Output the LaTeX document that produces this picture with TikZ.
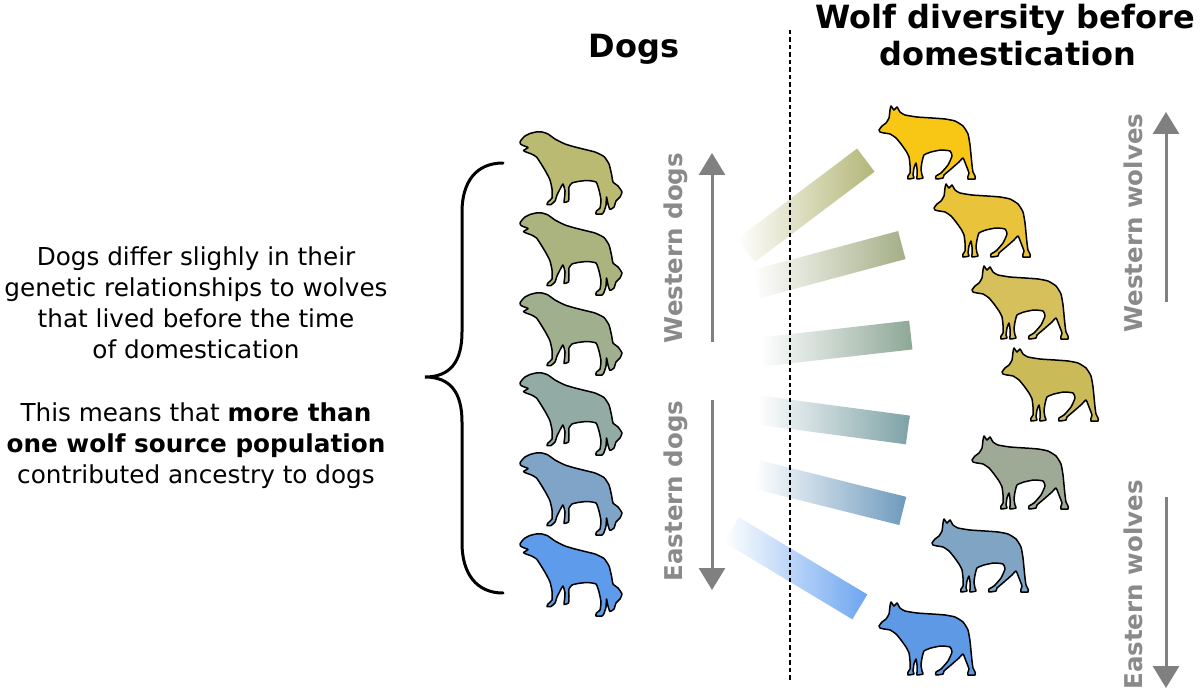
\documentclass[tikz,border=0pt]{standalone}
\usepackage{fontspec}
\setmainfont{DejaVu Sans}
\usetikzlibrary{arrows.meta}
\definecolor{D1}{HTML}{BABA72}
\definecolor{D2}{HTML}{ABB47F}
\definecolor{D3}{HTML}{A0B08E}
\definecolor{D4}{HTML}{93ABA5}
\definecolor{D5}{HTML}{80A4C8}
\definecolor{D6}{HTML}{5E9BEB}
\definecolor{W1}{HTML}{F8C614}
\definecolor{W2}{HTML}{E9C43A}
\definecolor{W3}{HTML}{D5C05C}
\definecolor{W4}{HTML}{CBBA58}
\definecolor{W5}{HTML}{9EAA95}
\definecolor{W6}{HTML}{80A5C4}
\definecolor{W7}{HTML}{5E99E6}
\definecolor{B1}{HTML}{B3B676}
\definecolor{B2}{HTML}{A4AE86}
\definecolor{B3}{HTML}{8DA795}
\definecolor{B4}{HTML}{7DA2A6}
\definecolor{B5}{HTML}{6E9ABD}
\definecolor{B6}{HTML}{6CA5F0}
\definecolor{grayT}{HTML}{8A8A8A}
\definecolor{grayA}{HTML}{808080}
\begin{document}
\begin{tikzpicture}[x=1pt,y=-1pt,
  sil/.style={draw=black, line width=1.5pt, line join=round},
  glabel/.style={text=grayT, font=\fontsize{24.5}{29}\selectfont\bfseries, rotate=90, anchor=base, inner sep=0pt},
  garrow/.style={draw=grayA, line width=3pt, -{Triangle[length=22pt,width=26pt]}},
  body/.style={font=\fontsize{24.7}{31}\selectfont, anchor=base, inner sep=0pt},
  title/.style={font=\fontsize{32}{38}\selectfont\bfseries, anchor=base, inner sep=0pt},
  bar/.style={minimum width=150pt, minimum height=29pt, inner sep=0pt, anchor=east, left color=white, right color=#1},
  pics/dog/.style={code={\draw[sil, fill=#1] plot[smooth cycle, tension=0.3] coordinates {
    (0,10) (2,7) (5,4) (10,1.5) (16,0) (22,0) (28,2) (35,7) (45,12) (55,15) (65,17.5)
    (75,20) (84,24.5) (89,32) (91.5,42) (93,50) (98,54) (102,60) (100,65) (96,69)
    (94,75) (90,77.5) (88,72) (86.5,65) (86,73) (84,79.5) (82,82) (76,82) (76.5,79)
    (80,76) (81,68) (79,58) (76,50) (67,48.5) (58,49.5) (52,51) (49,55) (49,62)
    (48.5,69) (44,70.5) (44.5,66) (45,59) (43,52) (40,57) (37,63) (35,69) (31,72.5)
    (27,72.5) (28,70) (32,66) (32,57) (30,48) (26,40) (21.5,32.5) (16.5,25)
    (11.5,22) (6,20) (3.5,18.5) (8,15.5) (3,13.5) (0.5,12)};}},
  pics/wolf/.style={code={\draw[sil, fill=#1] plot[smooth cycle, tension=0.3] coordinates {
    (2,25) (5,21) (9,18) (12,13) (13,5) (14,1) (17,5) (20,2) (23,7) (28,10) (40,12)
    (55,13) (68,14) (78,16) (86,21) (91,29) (93,40) (94,50) (95,60) (96,67) (98,71)
    (98,74) (91,74) (91,71) (92,68) (89,60) (86,53) (82,57) (74,64) (67,70) (66,73)
    (59,74) (59,71) (64,68) (71,60) (75,51) (73,46) (64,45) (54,47) (47,50) (45,57)
    (44,64) (45,70) (46,73) (40,74) (40,71) (40,64) (39,58) (37,63) (36,70) (37,73)
    (31,74) (31,71) (33,68) (33,60) (32,52) (29,46) (24,39) (19,33) (13,29) (7,28)
    (3,27)};}}
]
\useasboundingbox (0,0) rectangle (1200,690);
\fill[white] (0,0) rectangle (1200,690);

% fading bars
\node[bar=B1, rotate=37]   (bar1) at (866,160) {};
\node[bar=B2, rotate=15]   (bar2) at (902,245) {};
\node[bar=B3, rotate=6.5]  (bar3) at (911,335) {};
\node[bar=B4, rotate=-7.6] (bar4) at (908,430) {};
\node[bar=B5, rotate=-14]  (bar5) at (903,511) {};
\node[bar=B6, rotate=-31]  (bar6) at (860,607) {};

% dashed divider
\coordinate (dtop) at (790,30);
\coordinate (dbot) at (790,682);
\draw[line width=1.3pt, dash pattern=on 4.5pt off 3pt] (dtop) -- (dbot);

% titles
\node[title] (tdogs) at (634,58) {Dogs};
\node[title] (twolf1) at (1005,29) {Wolf diversity before};
\node[title] (twolf2) at (1008,66) {domestication};

% dogs
\pic (dog1) at (520,132) {dog=D1};
\pic (dog2) at (520,213) {dog=D2};
\pic (dog3) at (520,293) {dog=D3};
\pic (dog4) at (520,373) {dog=D4};
\pic (dog5) at (520,453) {dog=D5};
\pic (dog6) at (520,534) {dog=D6};

% wolves
\pic (wolf1) at (877,105) {wolf=W1};
\pic (wolf2) at (932,183) {wolf=W2};
\pic (wolf3) at (970,265) {wolf=W3};
\pic (wolf4) at (1000,347) {wolf=W4};
\pic (wolf5) at (970,435) {wolf=W5};
\pic (wolf6) at (930,518) {wolf=W6};
\pic (wolf7) at (877,601) {wolf=W7};

% dog arrows and labels
\coordinate (wdA) at (712,342); \coordinate (wdB) at (712,153);
\coordinate (edA) at (712,400); \coordinate (edB) at (712,590);
\draw[garrow] (wdA) -- (wdB);
\draw[garrow] (edA) -- (edB);
\node[glabel] (lwd) at (682,248) {Western dogs};
\node[glabel] (led) at (682,491) {Eastern dogs};

% wolf arrows and labels
\coordinate (wwA) at (1166,302); \coordinate (wwB) at (1166,112);
\coordinate (ewA) at (1166,497); \coordinate (ewB) at (1166,688);
\draw[garrow] (wwA) -- (wwB);
\draw[garrow] (ewA) -- (ewB);
\node[glabel] (lww) at (1142,223) {Western wolves};
\node[glabel] (lew) at (1142,585) {Eastern wolves};

% brace
\draw[line width=3pt, line cap=round]
  (503,163) .. controls (476,163) and (462,182) .. (462,212) -- (462,332)
  .. controls (462,362) and (450,377) .. (425,377)
  .. controls (450,377) and (462,392) .. (462,422) -- (462,543)
  .. controls (462,573) and (476,593) .. (503,593);

% explanatory text
\node[body] (p1) at (196,265) {Dogs differ slighly in their};
\node[body] (p2) at (196,296) {genetic relationships to wolves};
\node[body] (p3) at (196,327) {that lived before the time};
\node[body] (p4) at (196,358) {of domestication};
\node[body] (p5) at (196,421) {This means that \textbf{more than}};
\node[body] (p6) at (196,452) {\textbf{one wolf source population}};
\node[body] (p7) at (196,483) {contributed ancestry to dogs};
\end{tikzpicture}
\end{document}
